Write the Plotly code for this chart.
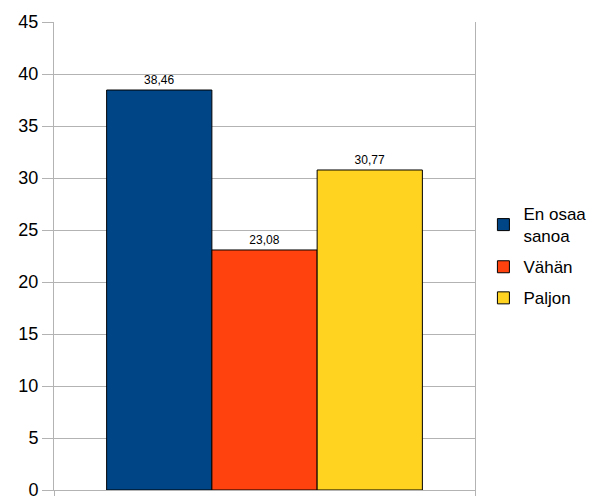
import plotly.graph_objects as go

series = ["En osaa<br>sanoa", "Vähän", "Paljon"]
values = [38.46, 23.08, 30.77]
colors = ["#004586", "#ff420e", "#ffd320"]
category = [""]
y_ticks = [0, 5, 10, 15, 20, 25, 30, 35, 40, 45]

fig = go.Figure()
for i, (name, val, col) in enumerate(zip(series, values, colors)):
    fig.add_trace(go.Bar(
        x=category, y=[val], name=name, legendgroup=f"g{i}",
        marker=dict(color=col, line=dict(color="#000000", width=1)),
        text=[val], texttemplate="%{y:.2f}", textposition="outside",
        textfont=dict(family="Liberation Sans", size=12, color="#000000"),
        cliponaxis=False,
    ))

fig.update_layout(
    width=601, height=496,
    margin=dict(l=54, r=126, t=22, b=6, autoexpand=False),
    paper_bgcolor="white", plot_bgcolor="white",
    barmode="group", bargap=0.25, bargroupgap=0,
    separators=",.",
    font=dict(family="Liberation Sans", color="#000000"),
    showlegend=True,
    legend=dict(
        x=1.02, xanchor="left", xref="paper", y=0.5, yanchor="middle",
        font=dict(size=17, family="Liberation Sans"),
        itemwidth=30, tracegroupgap=6, bgcolor="rgba(0,0,0,0)",
    ),
)
fig.update_yaxes(
    range=[0, 45], tickvals=y_ticks, showgrid=True, gridcolor="#b3b3b3",
    gridwidth=1, showline=True, linecolor="#b3b3b3", linewidth=1, mirror=True,
    ticks="outside", ticklen=11, tickcolor="#b3b3b3",
    tickfont=dict(size=18, family="Liberation Sans", color="#000000"),
    ticklabeloverflow="allow",
    zeroline=False, automargin=False,
)
fig.update_xaxes(
    showline=True, linecolor="#b3b3b3", linewidth=1,
    ticks="outside", tickson="boundaries", ticklen=8, tickcolor="#b3b3b3",
    showticklabels=False, showgrid=False, automargin=False,
)

fig.write_html("out.html")
